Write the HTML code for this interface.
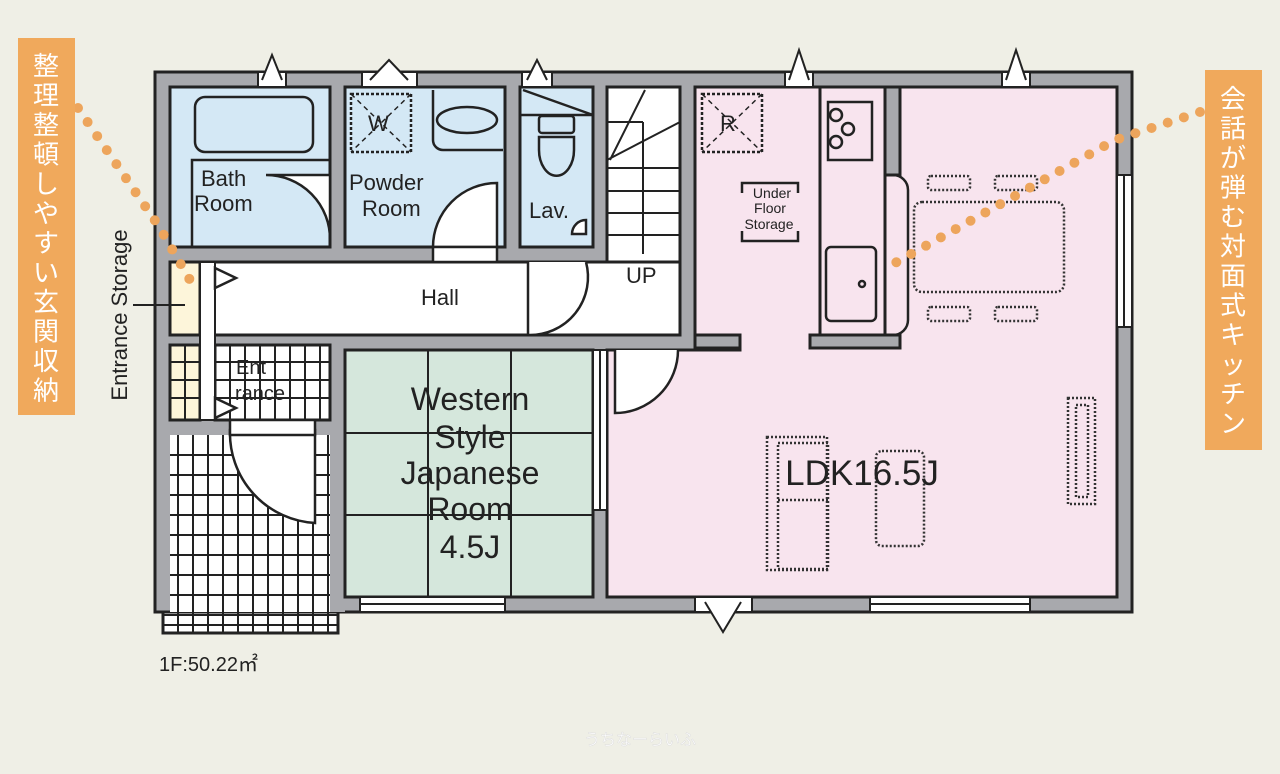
<!DOCTYPE html>
<html><head><meta charset="utf-8"><style>
html,body{margin:0;padding:0;background:#efefe6;}
svg{display:block;font-family:"Liberation Sans","DejaVu Sans",sans-serif;}
.jp{font-family:"Noto Sans CJK JP",sans-serif;}
</style></head><body>
<svg width="1280" height="774" viewBox="0 0 1280 774" xmlns="http://www.w3.org/2000/svg">
<rect width="1280" height="774" fill="#efefe6"/>
<!-- porch grid -->
<rect x="163" y="435" width="175" height="198" fill="#fff" stroke="#222" stroke-width="3"/>
<g stroke="#222" stroke-width="2">
<line x1="178" y1="435" x2="178" y2="633"/><line x1="193" y1="435" x2="193" y2="633"/><line x1="208" y1="435" x2="208" y2="633"/><line x1="223" y1="435" x2="223" y2="633"/><line x1="238" y1="435" x2="238" y2="633"/><line x1="253" y1="435" x2="253" y2="633"/><line x1="268" y1="435" x2="268" y2="633"/><line x1="283" y1="435" x2="283" y2="633"/><line x1="298" y1="435" x2="298" y2="633"/><line x1="313" y1="435" x2="313" y2="633"/><line x1="328" y1="435" x2="328" y2="633"/>
<line x1="163" y1="455" x2="338" y2="455"/><line x1="163" y1="475" x2="338" y2="475"/><line x1="163" y1="495" x2="338" y2="495"/><line x1="163" y1="515" x2="338" y2="515"/><line x1="163" y1="535" x2="338" y2="535"/><line x1="163" y1="555" x2="338" y2="555"/><line x1="163" y1="575" x2="338" y2="575"/><line x1="163" y1="595" x2="338" y2="595"/><line x1="163" y1="615" x2="338" y2="615"/><line x1="163" y1="625" x2="338" y2="625"/>
</g>
<!-- main walls -->
<path d="M155 72 H1132 V612 H345 V612 H338 V612 H170 V612 H155 Z" fill="#a8a9ad" stroke="#222" stroke-width="3"/>
<rect x="170" y="435" width="160" height="177" fill="#fff"/>
<g stroke="#222" stroke-width="2">
<line x1="178" y1="435" x2="178" y2="612"/><line x1="193" y1="435" x2="193" y2="612"/><line x1="208" y1="435" x2="208" y2="612"/><line x1="223" y1="435" x2="223" y2="612"/><line x1="238" y1="435" x2="238" y2="612"/><line x1="253" y1="435" x2="253" y2="612"/><line x1="268" y1="435" x2="268" y2="612"/><line x1="283" y1="435" x2="283" y2="612"/><line x1="298" y1="435" x2="298" y2="612"/><line x1="313" y1="435" x2="313" y2="612"/><line x1="328" y1="435" x2="328" y2="612"/>
<line x1="170" y1="455" x2="330" y2="455"/><line x1="170" y1="475" x2="330" y2="475"/><line x1="170" y1="495" x2="330" y2="495"/><line x1="170" y1="515" x2="330" y2="515"/><line x1="170" y1="535" x2="330" y2="535"/><line x1="170" y1="555" x2="330" y2="555"/><line x1="170" y1="575" x2="330" y2="575"/><line x1="170" y1="595" x2="330" y2="595"/>
</g>
<rect x="330" y="435" width="15" height="177" fill="#a8a9ad"/>
<line x1="338" y1="612" x2="338" y2="633" stroke="#222" stroke-width="3"/>
<line x1="155" y1="612" x2="163" y2="612" stroke="#222" stroke-width="3"/>
<!-- rooms -->
<g stroke="#222" stroke-width="3">
<rect x="170" y="87" width="160" height="160" fill="#d4e8f5"/>
<rect x="345" y="87" width="160" height="160" fill="#d4e8f5"/>
<rect x="520" y="87" width="73" height="160" fill="#d4e8f5"/>
<rect x="607" y="87" width="73" height="175" fill="#fff"/>
<rect x="170" y="262" width="510" height="73" fill="#fff"/>
<rect x="170" y="262" width="30" height="73" fill="#fdf5da"/>
<rect x="170" y="345" width="30" height="75" fill="#fdf5da"/>
<rect x="215" y="345" width="115" height="75" fill="#fff"/>
<rect x="345" y="350" width="248" height="247" fill="#d5e7dc"/>
<path d="M695 87 H1117 V597 H607 V350 H740 V335 H695 Z" fill="#f8e4ee"/>
<rect x="820" y="87" width="65" height="248" fill="#f8e4ee"/>
<rect x="810" y="335" width="90" height="13" fill="#a8a9ad"/>
<rect x="695" y="335" width="45" height="13" fill="#a8a9ad"/>
<rect x="885" y="87" width="15" height="88" fill="#a8a9ad"/>
</g>
<rect x="200" y="262" width="15" height="158" fill="#fff" stroke="#222" stroke-width="2"/>
<!-- entrance grid -->
<g stroke="#222" stroke-width="2">
<line x1="230" y1="345" x2="230" y2="420"/><line x1="245" y1="345" x2="245" y2="420"/><line x1="260" y1="345" x2="260" y2="420"/><line x1="275" y1="345" x2="275" y2="420"/><line x1="290" y1="345" x2="290" y2="420"/><line x1="305" y1="345" x2="305" y2="420"/><line x1="320" y1="345" x2="320" y2="420"/>
<line x1="215" y1="362" x2="330" y2="362"/><line x1="215" y1="380" x2="330" y2="380"/><line x1="215" y1="398" x2="330" y2="398"/>
<line x1="170" y1="362" x2="200" y2="362"/><line x1="170" y1="380" x2="200" y2="380"/><line x1="170" y1="398" x2="200" y2="398"/><line x1="185" y1="345" x2="185" y2="420"/>
</g>
<!-- tatami lines -->
<g stroke="#222" stroke-width="2">
<line x1="428" y1="350" x2="428" y2="597"/><line x1="511" y1="350" x2="511" y2="597"/>
<line x1="345" y1="433" x2="593" y2="433"/><line x1="345" y1="515" x2="593" y2="515"/>
</g>
<!-- doors -->
<g fill="#fff" stroke="#222" stroke-width="2.5">
<path d="M330 175 H266 A64 64 0 0 1 330 240 Z"/>
<path d="M497 183 A64 64 0 0 0 433 247 H497 Z"/>
<rect x="433" y="247" width="64" height="15"/>
<path d="M528 262 V335 A58 58 0 0 0 586 262"/>
<path d="M586 220 A14 14 0 0 0 572 234 H586 Z"/>
<path d="M615 350 V413 A63 63 0 0 0 678 350"/>
<path d="M230 430 A90 90 0 0 0 315 523 V430 Z"/>
<rect x="230" y="420" width="85" height="15"/>
<path d="M215 268 L236 278 L215 288 Z"/>
<path d="M215 398 L236 408 L215 418 Z"/>
</g>
<!-- windows -->
<g fill="#fff" stroke="#222" stroke-width="2">
<rect x="258" y="72" width="28" height="15"/><path d="M262 80 L272 55 L282 80"/>
<rect x="362" y="72" width="55" height="15"/><path d="M370 80 L389 60 L408 80"/>
<rect x="522" y="72" width="30" height="15"/><path d="M527 80 L537 60 L547 80"/>
<rect x="785" y="72" width="28" height="15"/><path d="M789 80 L799 50 L809 80"/>
<rect x="1002" y="72" width="28" height="15"/><path d="M1006 80 L1016 50 L1026 80"/>
<rect x="360" y="597" width="145" height="15"/><line x1="360" y1="604" x2="505" y2="604"/>
<rect x="870" y="597" width="160" height="15"/><line x1="870" y1="604" x2="1030" y2="604"/>
<rect x="695" y="597" width="57" height="15"/><path d="M705 602 L723 632 L741 602"/>
<rect x="1117" y="175" width="15" height="152"/><line x1="1124" y1="175" x2="1124" y2="327"/>
<rect x="593" y="350" width="14" height="160"/><line x1="600" y1="350" x2="600" y2="510"/>
</g>
<!-- stairs -->
<g stroke="#222" stroke-width="2" fill="none">
<line x1="607" y1="168" x2="680" y2="168"/><line x1="607" y1="191" x2="680" y2="191"/><line x1="607" y1="213" x2="680" y2="213"/><line x1="607" y1="235" x2="680" y2="235"/>
<line x1="643" y1="122" x2="643" y2="254"/>
<path d="M607 122 H643 M607 160 L680 122 M610 160 L645 90"/>
</g>
<!-- fixtures -->
<g stroke="#222" stroke-width="2.5" fill="none">
<rect x="195" y="97" width="118" height="55" rx="10"/>
<path d="M192 247 V160 H330"/>
<path d="M433 90 V140 A10 10 0 0 0 443 150 H503 M433 90"/>
<ellipse cx="467" cy="120" rx="30" ry="13"/>
<path d="M520 115 H593 M523 90 L593 115"/>
<rect x="539" y="116" width="35" height="17" rx="3"/>
<path d="M539 137 H574 V150 A17 25 0 0 1 539 150 Z"/>
<rect x="351" y="94" width="60" height="58" stroke-dasharray="3 2"/>
<path d="M351 94 L411 152 M411 94 L351 152" stroke-dasharray="5 4" stroke-width="1.5"/>
<rect x="702" y="94" width="60" height="58" stroke-dasharray="3 2"/>
<path d="M702 94 L762 152 M762 94 L702 152" stroke-dasharray="5 4" stroke-width="1.5"/>
<path d="M742 193 V183 H798 V193 M742 231 V241 H798 V231"/>
<rect x="828" y="102" width="44" height="58"/>
<circle cx="836" cy="115" r="6"/><circle cx="848" cy="129" r="6"/><circle cx="836" cy="142" r="6"/>
<rect x="826" y="247" width="50" height="74" rx="5"/>
<circle cx="862" cy="284" r="3"/>
<path d="M885 175 H893 A15 15 0 0 1 908 190 V320 A15 15 0 0 1 893 335 H885"/>
</g>
<g stroke="#333" stroke-width="2.5" fill="none" stroke-dasharray="2 2">
<rect x="914" y="202" width="150" height="90" rx="8"/>
<rect x="928" y="176" width="42" height="14" rx="3"/><rect x="995" y="176" width="42" height="14" rx="3"/>
<rect x="928" y="307" width="42" height="14" rx="3"/><rect x="995" y="307" width="42" height="14" rx="3"/>
<rect x="767" y="437" width="60" height="133"/><rect x="778" y="443" width="50" height="126"/><line x1="778" y1="500" x2="828" y2="500"/>
<rect x="876" y="451" width="48" height="95" rx="6"/>
<rect x="1068" y="398" width="27" height="106"/><rect x="1076" y="405" width="12" height="92"/>
</g>
<!-- orange dots -->
<g stroke="#eda55c" stroke-width="10" stroke-linecap="round" stroke-dasharray="0 17" fill="none">
<path d="M78 108 L158 225 L190 280"/>
<path d="M1200 112 L1115 140 L895 263"/>
</g>
<!-- labels -->
<g fill="#222" font-size="22">
<text x="201" y="186">Bath</text><text x="194" y="211">Room</text>
<text x="349" y="190">Powder</text><text x="362" y="216">Room</text>
<text x="529" y="218">Lav.</text>
<text x="421" y="305">Hall</text>
<text x="626" y="283">UP</text>
<text x="368" y="131" font-size="22">W</text>
<text x="720" y="131" font-size="22">R</text>
<text x="236" y="374" font-size="20">Ent</text><text x="235" y="400" font-size="20">rance</text>
<text x="159" y="671" font-size="20">1F:50.22㎡</text>
</g>
<g fill="#222" font-size="14" text-anchor="middle"><text x="772" y="198">Under</text><text x="770" y="213">Floor</text><text x="769" y="229">Storage</text></g>
<g fill="#222" font-size="32" text-anchor="middle">
<text x="470" y="410">Western</text><text x="470" y="448">Style</text><text x="470" y="484">Japanese</text><text x="470" y="520">Room</text><text x="470" y="558">4.5J</text>
</g>
<text x="862" y="485" font-size="35" fill="#222" text-anchor="middle">LDK16.5J</text>
<text transform="translate(127 315) rotate(-90)" font-size="22" text-anchor="middle" fill="#222">Entrance Storage</text>
<line x1="133" y1="305" x2="185" y2="305" stroke="#222" stroke-width="2"/>
<!-- boxes -->
<rect x="18" y="38" width="57" height="377" fill="#f0a95c"/>
<text class="jp" x="46" y="75" font-size="26" fill="#fff" text-anchor="middle">
<tspan x="46" dy="0">整</tspan><tspan x="46" dy="29.5">理</tspan><tspan x="46" dy="29.5">整</tspan><tspan x="46" dy="29.5">頓</tspan><tspan x="46" dy="29.5">し</tspan><tspan x="46" dy="29.5">や</tspan><tspan x="46" dy="29.5">す</tspan><tspan x="46" dy="29.5">い</tspan><tspan x="46" dy="29.5">玄</tspan><tspan x="46" dy="29.5">関</tspan><tspan x="46" dy="29.5">収</tspan><tspan x="46" dy="29.5">納</tspan></text>
<rect x="1205" y="70" width="57" height="380" fill="#f0a95c"/>
<text class="jp" x="1233" y="108" font-size="26" fill="#fff" text-anchor="middle">
<tspan x="1233" dy="0">会</tspan><tspan x="1233" dy="29.5">話</tspan><tspan x="1233" dy="29.5">が</tspan><tspan x="1233" dy="29.5">弾</tspan><tspan x="1233" dy="29.5">む</tspan><tspan x="1233" dy="29.5">対</tspan><tspan x="1233" dy="29.5">面</tspan><tspan x="1233" dy="29.5">式</tspan><tspan x="1233" dy="29.5">キ</tspan><tspan x="1233" dy="29.5">ッ</tspan><tspan x="1233" dy="29.5">チ</tspan><tspan x="1233" dy="29.5">ン</tspan></text>
<text class="jp" x="640" y="745" font-size="16" fill="#fff" stroke="#ddd" stroke-width="0.5" text-anchor="middle">うちなーらいふ</text>
</svg>
</body></html>
